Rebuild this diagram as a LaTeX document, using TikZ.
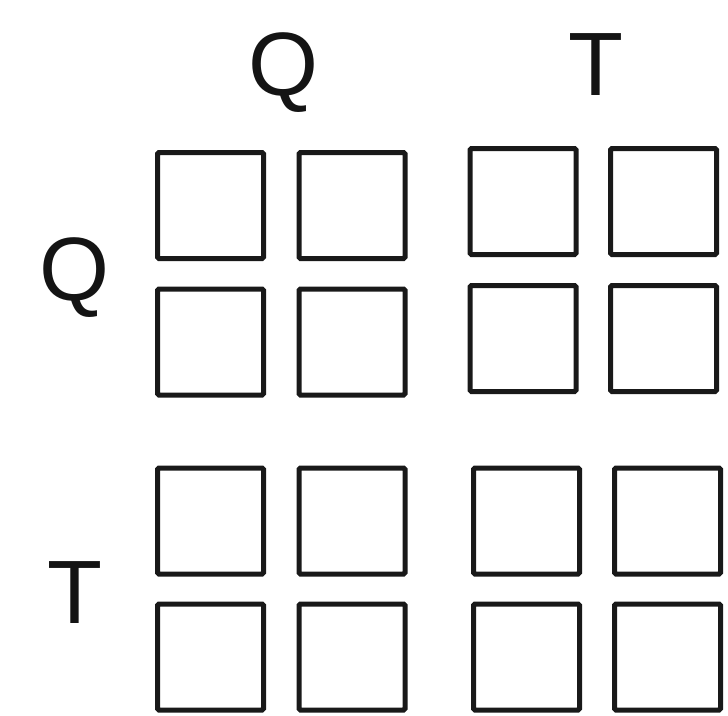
\documentclass[tikz,border=0pt]{standalone}
\usepackage{fontspec}
\setmainfont{Liberation Sans}
\begin{document}
\begin{tikzpicture}[x=1pt,y=-1pt,
  cell/.style={draw=black!90,line width=5pt,rounded corners=1.5pt,minimum width=106pt,minimum height=106pt,inner sep=0pt},
  lab/.style={anchor=base,inner sep=0pt,font=\fontsize{90}{90}\selectfont,text=black!92}]
\useasboundingbox (0,0) rectangle (728,715);
% labels
\node[lab] (lq) at (283,95) {Q};
\node[lab] (lt) at (596,95) {T};
\node[lab] (rq) at (75,300) {Q};
\node[lab] (rt) at (75,623) {T};
% QQ block
\node[cell] (qq11) at (210.5,205.5) {};
\node[cell] (qq12) at (352,205.5) {};
\node[cell] (qq21) at (210.5,342) {};
\node[cell] (qq22) at (352,342) {};
% QT block
\node[cell] (qt11) at (523,201.5) {};
\node[cell] (qt12) at (663.5,201.5) {};
\node[cell] (qt21) at (523,338.5) {};
\node[cell] (qt22) at (663.5,338.5) {};
% TQ block
\node[cell] (tq11) at (210.5,521) {};
\node[cell] (tq12) at (352,521) {};
\node[cell] (tq21) at (210.5,657) {};
\node[cell] (tq22) at (352,657) {};
% TT block
\node[cell] (tt11) at (526.5,521) {};
\node[cell] (tt12) at (667.5,521) {};
\node[cell] (tt21) at (526.5,657) {};
\node[cell] (tt22) at (667.5,657) {};
\end{tikzpicture}
\end{document}
